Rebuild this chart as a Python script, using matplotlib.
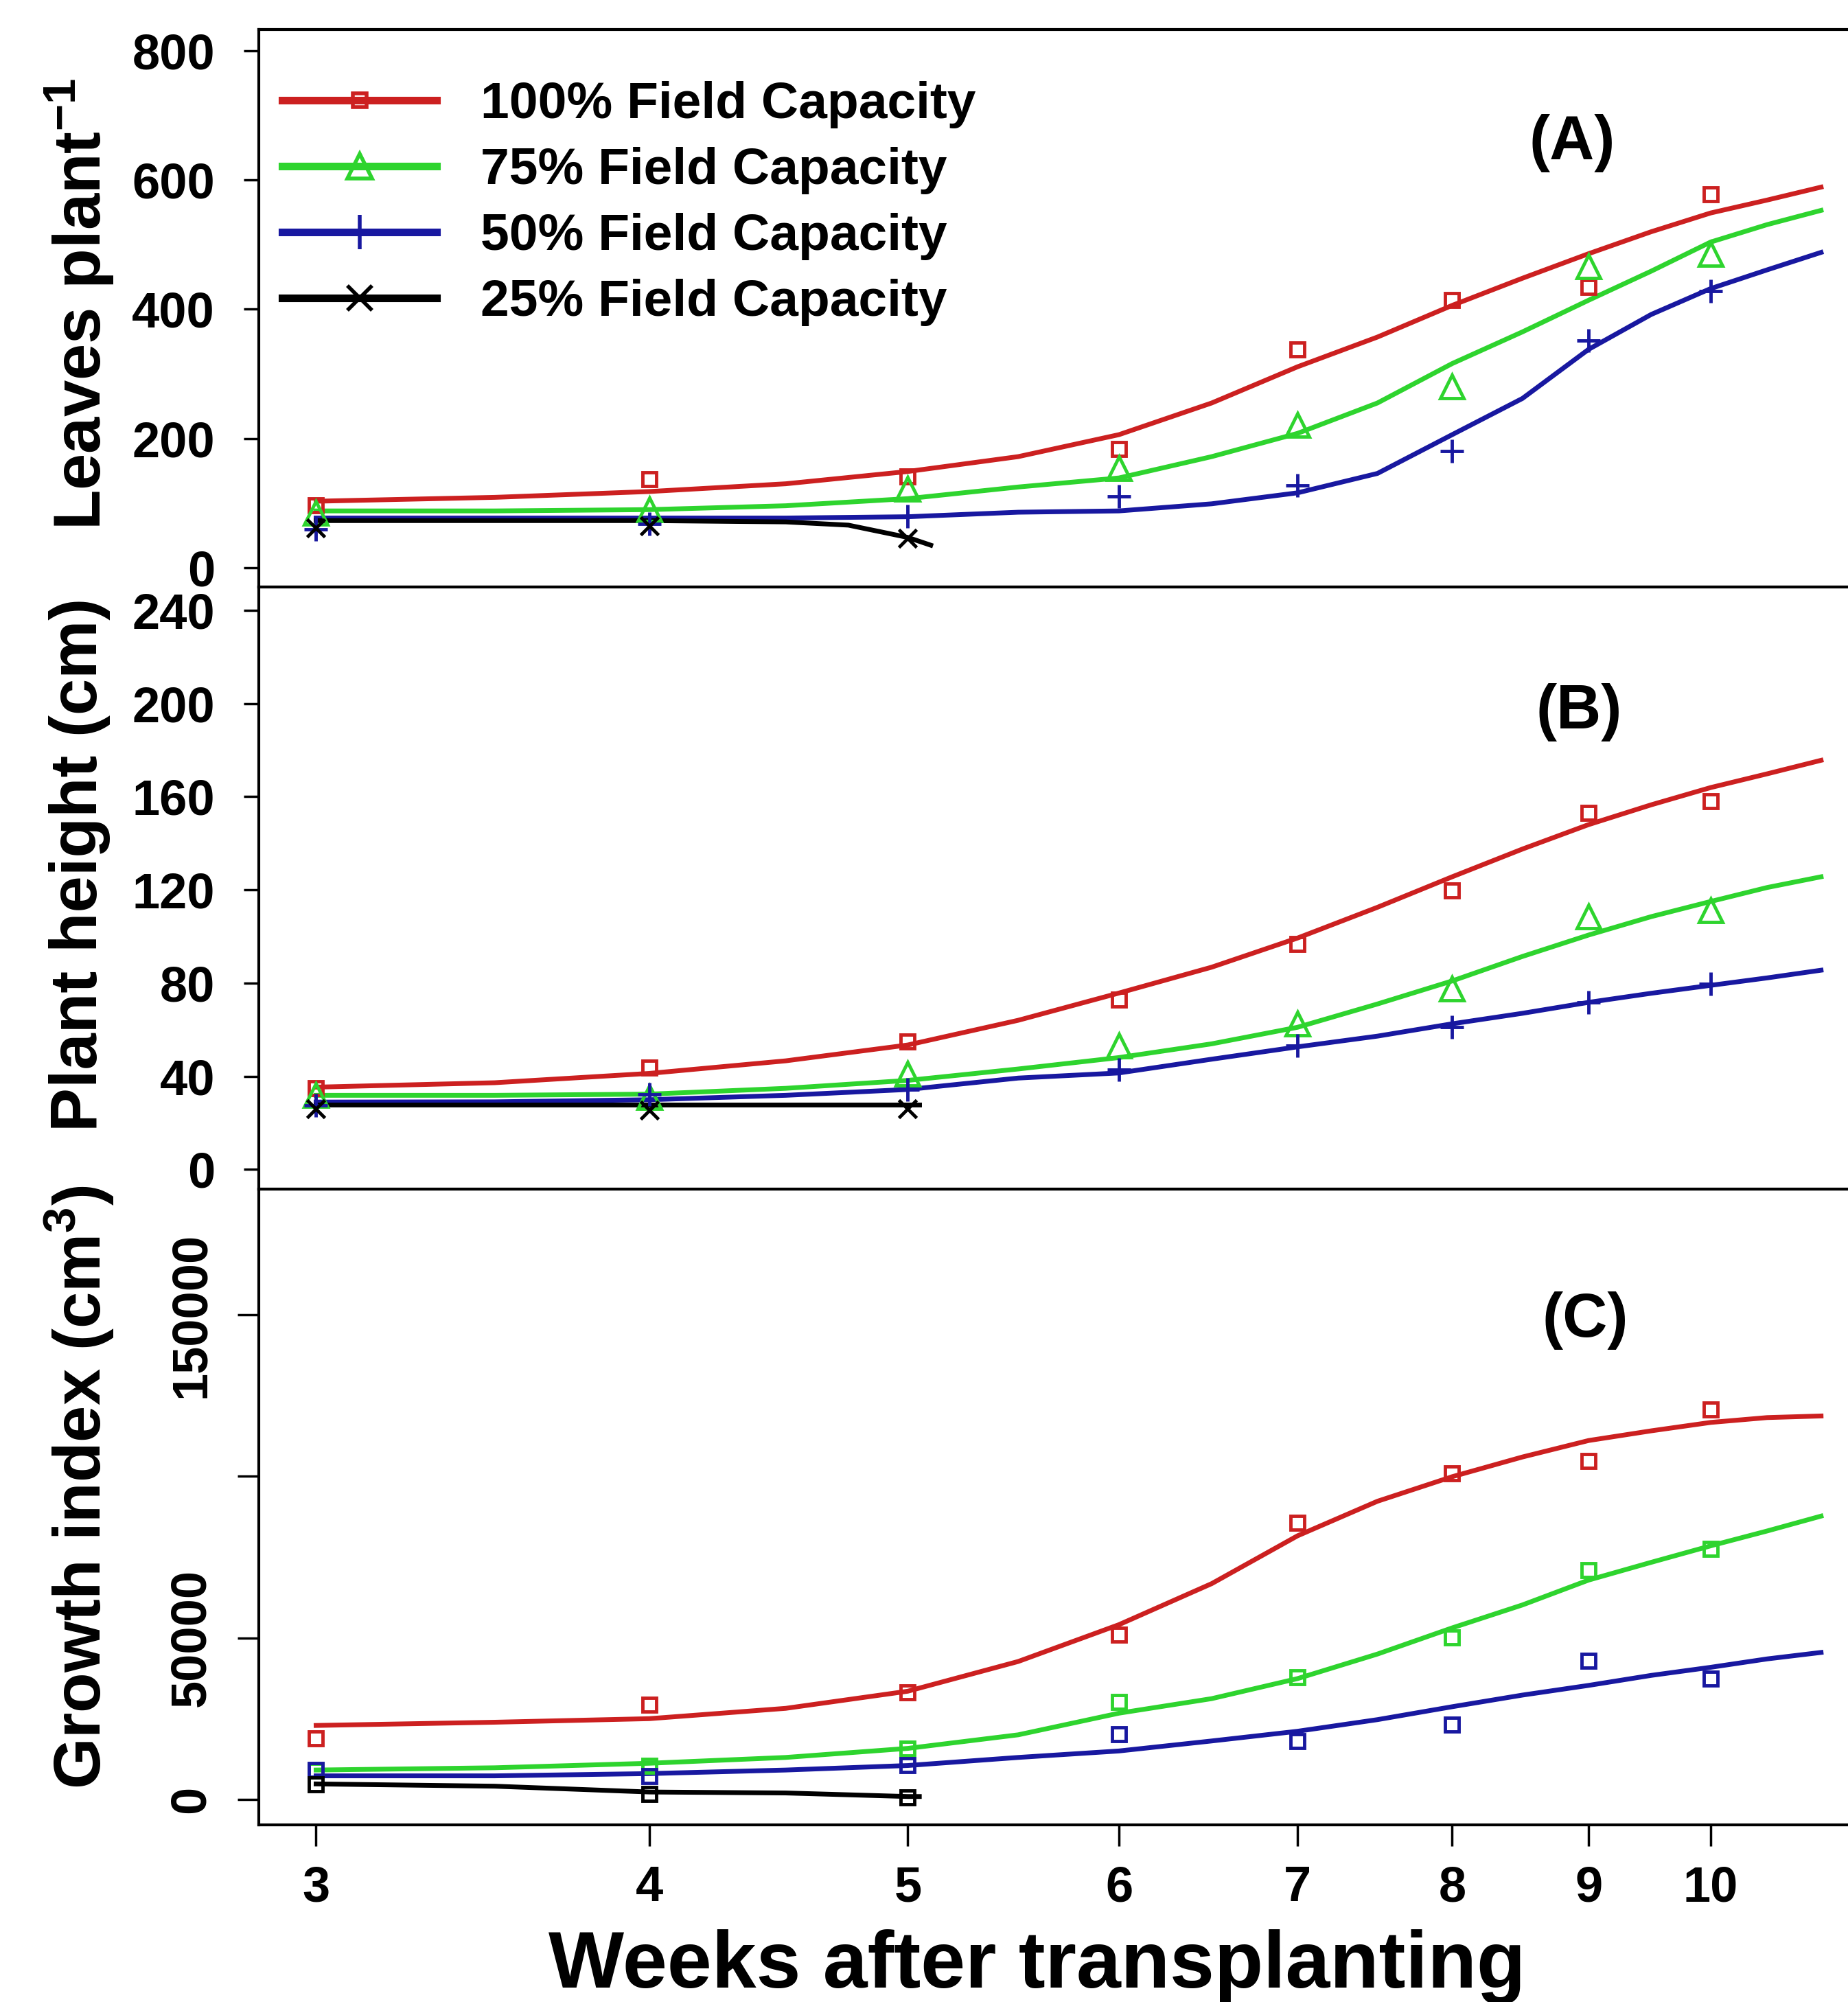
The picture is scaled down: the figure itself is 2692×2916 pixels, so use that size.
import matplotlib
matplotlib.use("Agg")
import matplotlib.pyplot as plt
from matplotlib.lines import Line2D
from matplotlib.ticker import FixedLocator, NullLocator

plt.rcParams["font.family"] = "Liberation Sans"
plt.rcParams["font.weight"] = "bold"
plt.rcParams["mathtext.fontset"] = "custom"
plt.rcParams["mathtext.rm"] = "Liberation Sans:bold"
plt.rcParams["mathtext.it"] = "Liberation Sans:bold"
plt.rcParams["mathtext.bf"] = "Liberation Sans:bold"

# ---- data ----
weeks = [3, 4, 5, 6, 7, 8, 9, 10]
weeks_25 = [3, 4, 5]
fit_x = [3, 3.5, 4, 4.5, 5, 5.5, 6, 6.5, 7, 7.5, 8, 8.5, 9, 9.5, 10, 10.5, 11]
fit_x_25a = [3, 3.5, 4, 4.5, 4.75, 5, 5.1]
fit_x_25 = [3, 3.5, 4, 4.5, 5, 5.05]

labels = ["100% Field Capacity", "75% Field Capacity",
          "50% Field Capacity", "25% Field Capacity"]
colors = ["#cc2020", "#2ed42e", "#1818a0", "#000000"]

# (A) leaves per plant
leaves_100 = [97, 137, 141, 184, 338, 414, 434, 578]
leaves_75 = [85, 90, 122, 154, 221, 280, 466, 486]
leaves_50 = [60, 68, 80, 110, 128, 181, 352, 428]
leaves_25 = [62, 65, 46]
leaves_fit_100 = [103, 109, 118, 130, 149, 172, 206, 255, 311, 357, 406, 448, 486, 520, 549, 569, 589]
leaves_fit_75 = [88, 88, 90, 96, 107, 125, 139, 172, 208, 255, 316, 365, 414, 459, 504, 531, 553]
leaves_fit_50 = [77, 77, 77, 77, 79, 86, 88, 99, 116, 146, 206, 262, 338, 392, 432, 461, 488]
leaves_fit_25 = [73, 73, 73, 71, 66, 47, 35]

# (B) plant height
height_100 = [35, 43.6, 54.9, 73, 96.7, 119.7, 153, 157.9]
height_75 = [32, 31, 41, 53, 62.5, 77.6, 108.5, 111.1]
height_50 = [27.4, 32.3, 34.3, 42.7, 53, 61, 71.7, 79.6]
height_25 = [26, 25.5, 26]
height_fit_100 = [35.3, 37.2, 41.2, 46.6, 53.4, 64, 75.7, 86.8, 99.3, 112.5, 125.6, 137.5, 148, 156.5, 163.9, 169.8, 175.6]
height_fit_75 = [31.8, 31.8, 32.3, 34.8, 38.2, 43.1, 48, 53.9, 61, 71, 80.9, 91.4, 100.6, 108.5, 115, 121, 125.6]
height_fit_50 = [28.9, 29, 29.9, 31.8, 34.3, 39.2, 41.4, 47.3, 52.6, 57.2, 62.5, 67, 71.7, 75.6, 79, 82.2, 85.5]
height_fit_25 = [27.9, 27.9, 27.9, 27.9, 27.9, 27.9]

# (C) growth index
growth_100 = [19000, 29300, 33200, 51100, 85600, 100900, 104800, 120700]
growth_75 = [9000, 10500, 15700, 30200, 37900, 50100, 70900, 77600]
growth_50 = [9100, 7300, 10600, 20100, 18100, 23100, 42900, 37400]
growth_25 = [4600, 1700, 700]
growth_fit_100 = [22900, 23900, 25000, 28200, 33500, 42700, 54100, 66800, 81600, 92300, 99900, 106000, 111100, 114100, 116700, 118200, 118700]
growth_fit_75 = [9100, 9800, 11200, 13000, 15800, 20000, 26700, 31200, 37400, 45000, 53100, 60200, 67900, 73400, 78500, 83100, 87700]
growth_fit_50 = [7300, 7300, 8000, 9100, 10500, 13000, 15000, 18100, 21100, 24700, 28700, 32300, 35300, 38400, 40900, 43500, 45500]
growth_fit_25 = [4800, 4100, 2300, 2000, 900, 900]

fig = plt.figure(figsize=(26.92, 29.16), dpi=100)
axA = fig.add_axes([0.140, 0.7068, 0.87, 0.2785])
axB = fig.add_axes([0.140, 0.4060, 0.87, 0.3008])
axC = fig.add_axes([0.140, 0.0885, 0.87, 0.3175])

mk_A = ["s", "^", "+", "x"]
ms_A = [14, 24, 24, 19]
mk_C = ["s", "s", "s", "s"]
ms_C = [14, 14, 14, 14]

panels = [
    (axA, [leaves_100, leaves_75, leaves_50, leaves_25],
     [leaves_fit_100, leaves_fit_75, leaves_fit_50, leaves_fit_25], fit_x_25a, mk_A, ms_A),
    (axB, [height_100, height_75, height_50, height_25],
     [height_fit_100, height_fit_75, height_fit_50, height_fit_25], fit_x_25, mk_A, ms_A),
    (axC, [growth_100, growth_75, growth_50, growth_25],
     [growth_fit_100, growth_fit_75, growth_fit_50, growth_fit_25], fit_x_25, mk_C, ms_C),
]

for ax, obs, fits, x25, mks, mss in panels:
    for i in range(4):
        fx = fit_x if i < 3 else x25
        ox = weeks if i < 3 else weeks_25
        ax.plot(fx, fits[i], color=colors[i], lw=5, solid_joinstyle="round", zorder=2)
        ax.plot(ox, obs[i], ls="none", marker=mks[i], ms=mss[i], mfc="none",
                mec=colors[i], mew=3.5, zorder=3)

for ax in (axA, axB, axC):
    ax.set_xscale("log")
    ax.set_xlim(2.855, 11.44)
    ax.spines["right"].set_visible(False)
    for s in ("left", "top", "bottom"):
        ax.spines[s].set_linewidth(3)
    ax.xaxis.set_minor_locator(NullLocator())
    ax.tick_params(axis="y", direction="out", length=16, width=2.5,
                   labelsize=52, pad=30)

axA.xaxis.set_major_locator(NullLocator())
axB.xaxis.set_major_locator(NullLocator())

axA.set_ylim(-29.7, 833)
axA.set_yticks([0, 200, 400, 600, 800])
axB.set_ylim(-8.5, 250)
axB.set_yticks([0, 40, 80, 120, 160, 200, 240])
axC.set_ylim(-7860, 188900)
axC.set_yticks([0, 50000, 100000, 150000])
axC.set_yticklabels(["0", "50000", "", "150000"], rotation=90, va="center")
axC.tick_params(axis="y", length=22, pad=24)

axC.xaxis.set_major_locator(FixedLocator(weeks))
axC.set_xticklabels([str(w) for w in weeks])
axC.tick_params(axis="x", direction="out", length=22, width=2.5,
                labelsize=52, pad=20)

axA.text(0.817, 0.796, "(A)", transform=axA.transAxes, fontsize=65,
         ha="center", va="center")
axB.text(0.821, 0.792, "(B)", transform=axB.transAxes, fontsize=65,
         ha="center", va="center")
axC.text(0.825, 0.793, "(C)", transform=axC.transAxes, fontsize=65,
         ha="center", va="center")

fig.text(0.043, 0.848, r"Leaves plant$^{-1}$", rotation=90, fontsize=69,
         ha="center", va="center")
fig.text(0.043, 0.568, "Plant height (cm)", rotation=90, fontsize=69,
         ha="center", va="center")
fig.text(0.043, 0.257, r"Growth index (cm$^{3}$)", rotation=90, fontsize=69,
         ha="center", va="center")
fig.text(0.561, 0.0072, "Weeks after transplanting", fontsize=84,
         ha="center", va="baseline")

leg_mk = ["s", "^", "+", "x"]
leg_ms = [15, 26, 36, 26]
handles = [Line2D([], [], color=colors[i], lw=8, marker=leg_mk[i], ms=leg_ms[i],
                  mfc="none", mec=colors[i], mew=4) for i in range(4)]
fig.legend(handles, labels, loc="upper left", bbox_to_anchor=(0.1527, 0.9595),
           frameon=False, fontsize=54, handlelength=3.0, handletextpad=0.85,
           labelspacing=0.36, borderpad=0, borderaxespad=0)

fig.savefig("out.png", dpi=100)
